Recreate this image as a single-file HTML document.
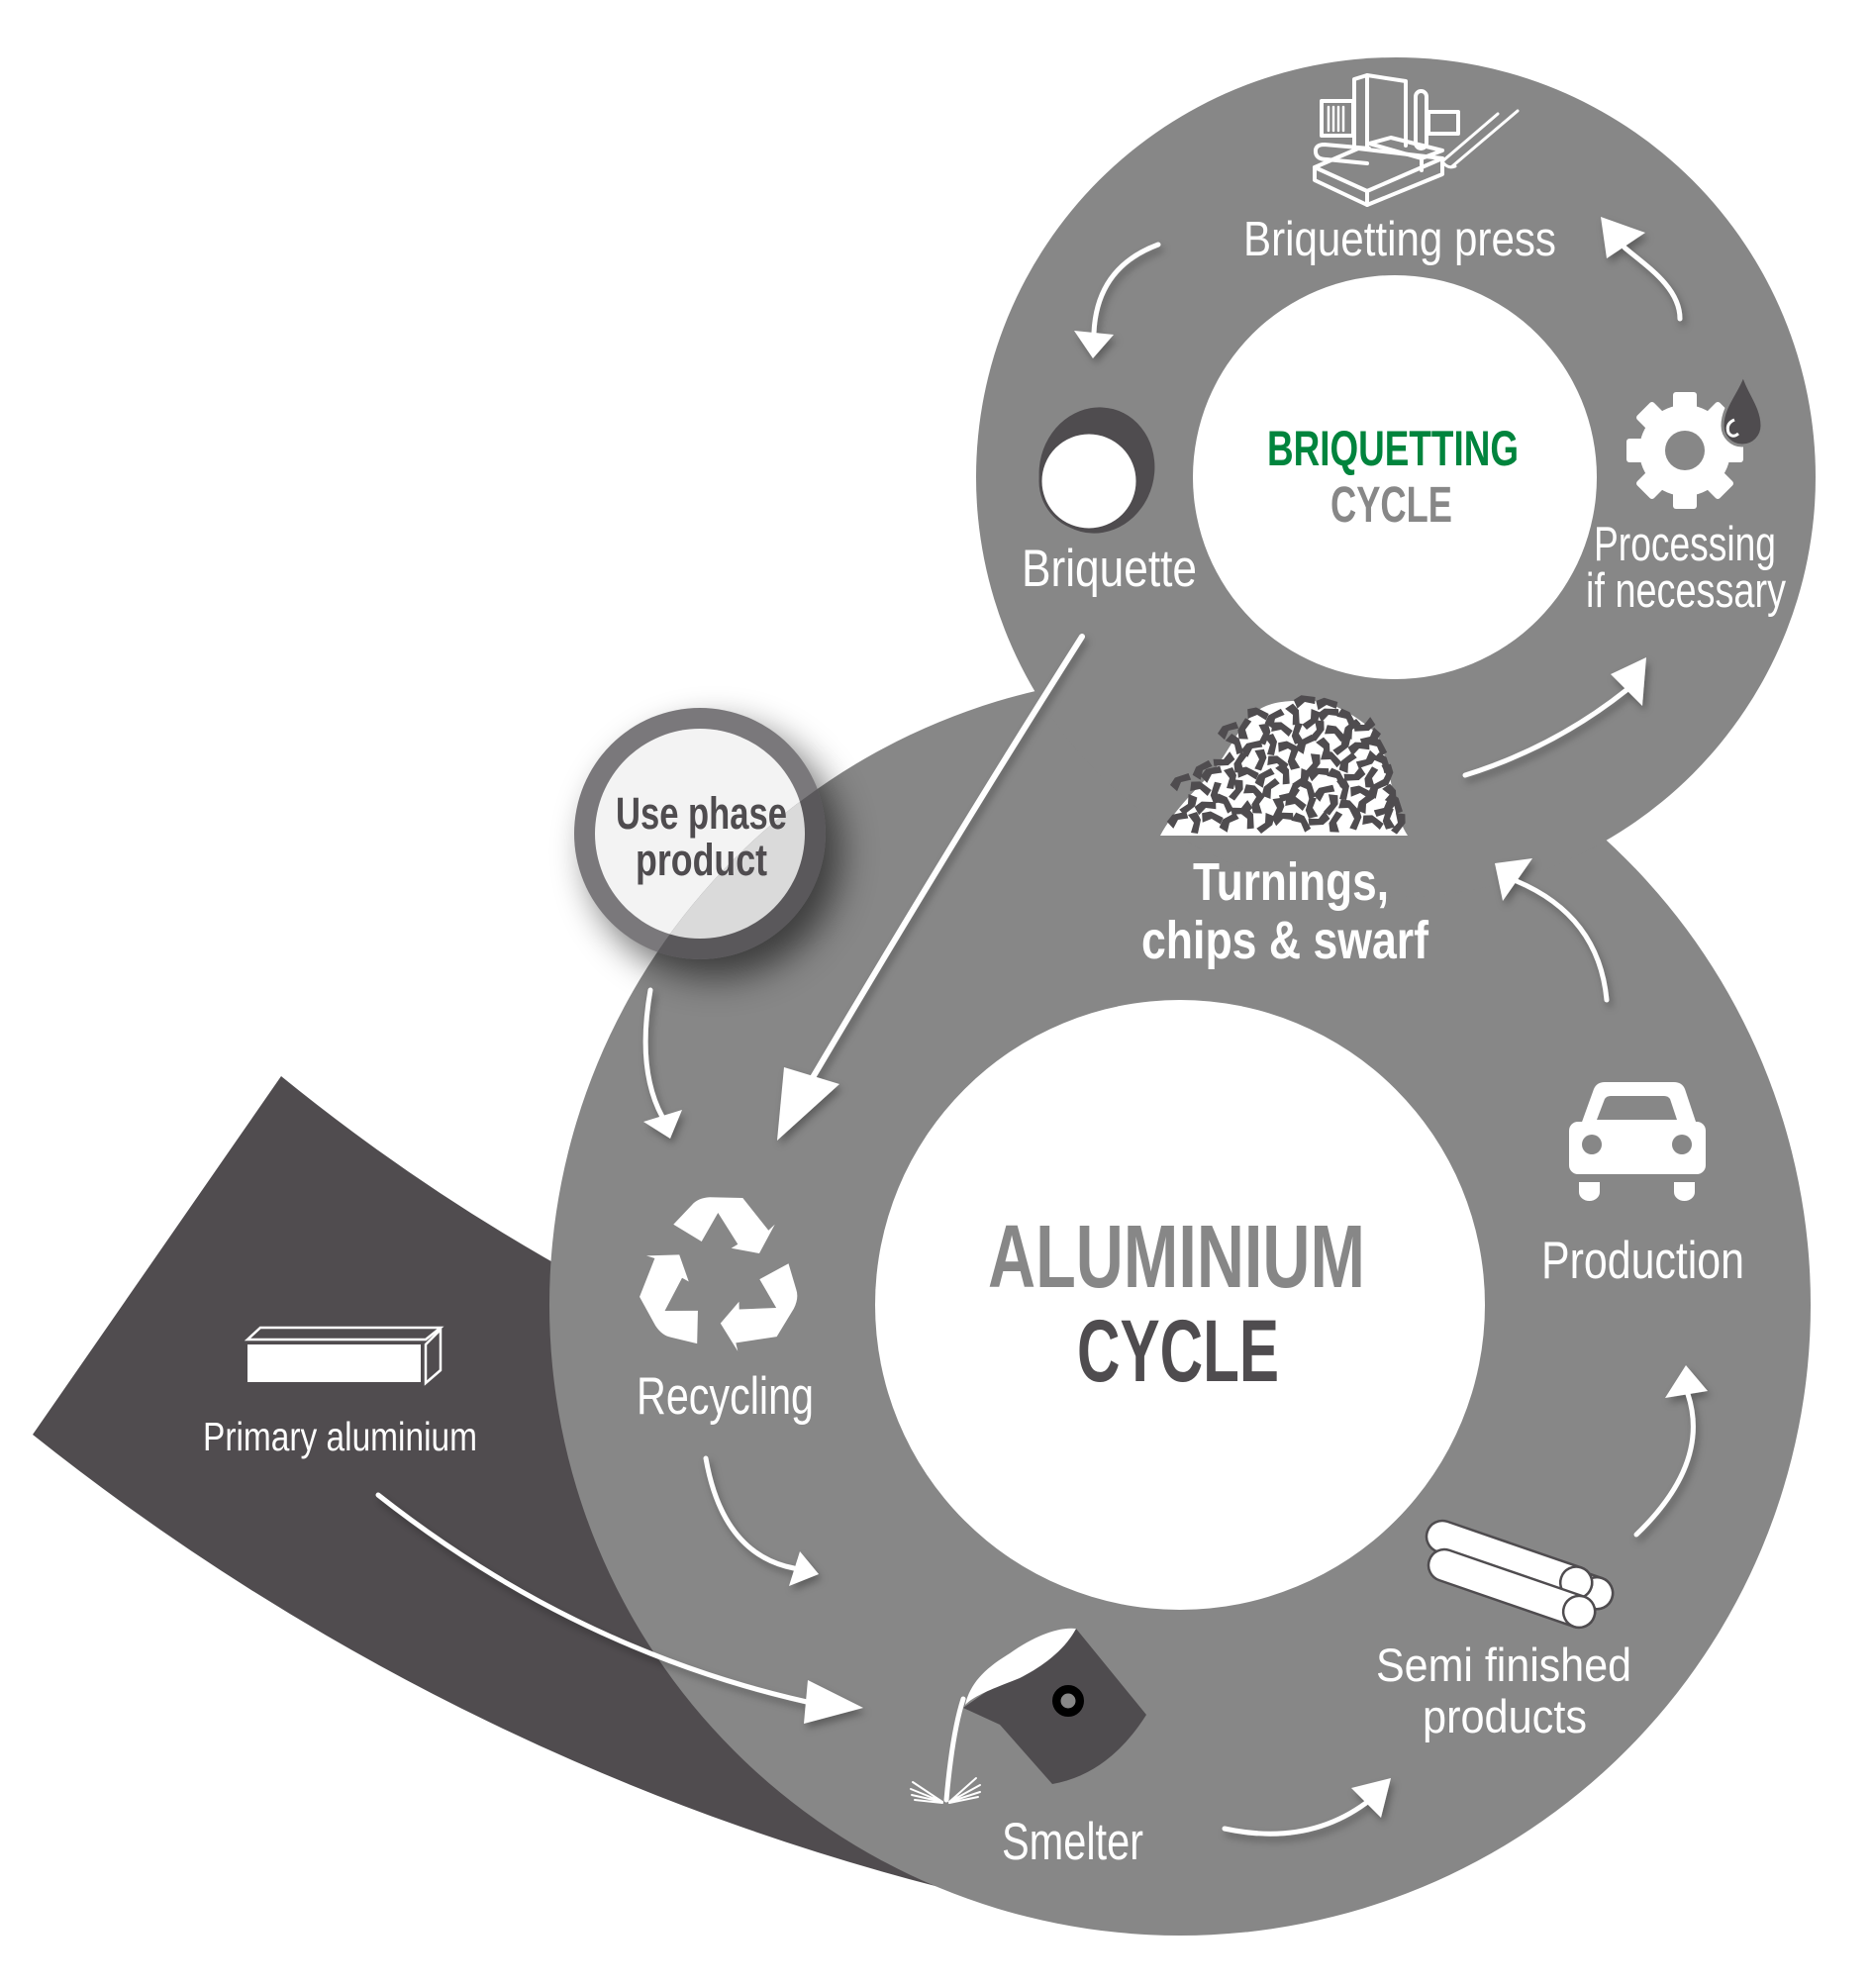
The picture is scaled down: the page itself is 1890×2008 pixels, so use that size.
<!DOCTYPE html>
<html>
<head>
<meta charset="utf-8">
<style>
html,body{margin:0;padding:0;background:#fff;}
svg{display:block;}
.t{font-family:"Liberation Sans Narrow","Liberation Sans",sans-serif;}
.b{font-weight:bold;}
.sh{fill:none;stroke:#fff;stroke-width:5;stroke-linecap:round;}
.hd{fill:#fff;}
</style>
</head>
<body>
<svg width="1890" height="2008" viewBox="0 0 1890 2008" xmlns="http://www.w3.org/2000/svg">
<defs>
  <filter id="ds" x="-50%" y="-50%" width="200%" height="200%">
    <feDropShadow dx="3" dy="5" stdDeviation="4" flood-color="#000" flood-opacity="0.3"/>
  </filter>
  <filter id="bl" x="-50%" y="-50%" width="200%" height="200%">
    <feGaussianBlur stdDeviation="18"/>
  </filter>
  <clipPath id="bigc"><circle cx="1192" cy="1318" r="637"/></clipPath>
  <path id="fl" d="M-11,-3 L-3,-7 L11,-4 L10,3 L0,0 L-8,6 Z"/>
  <path id="rp" d="M-46.7,-53.3 L-28,-73 Q-22,-80 -10,-80.7 L23.3,-80 L49.3,-47.3 L55.7,-53.3 L40,-24 L11.7,-29.3 L18.3,-33.3 L-1.7,-65 L-18.3,-36 Z"/>
</defs>

<rect width="1890" height="2008" fill="#fff"/>

<path d="M284,1087 A2008,2008 0 0 0 658,1328 L1000,1700 L1010,1921 A2450,2450 0 0 1 33,1449 Z" fill="#504c4f"/>

<circle cx="1192" cy="1318" r="637" fill="#878787"/>
<circle cx="1410" cy="482" r="424" fill="#878787"/>
<circle cx="1192" cy="1318" r="308" fill="#fff"/>
<circle cx="1409" cy="482" r="204" fill="#fff"/>

<circle cx="722" cy="860" r="128" fill="#000" opacity="0.55" filter="url(#bl)"/>
<circle cx="707" cy="842" r="127" fill="#7a787b"/>
<circle cx="707" cy="842" r="106" fill="#f3f3f3"/>
<g clip-path="url(#bigc)">
  <circle cx="707" cy="842" r="127" fill="#5a585b"/>
  <circle cx="707" cy="842" r="106" fill="#dadada"/>
</g>
<text class="t b" x="622" y="837" font-size="45" fill="#4f4c4f" textLength="173" lengthAdjust="spacingAndGlyphs">Use phase</text>
<text class="t b" x="642" y="884" font-size="45" fill="#4f4c4f" textLength="133" lengthAdjust="spacingAndGlyphs">product</text>

<g filter="url(#ds)">
  <path class="sh" d="M1170,247 Q1108,270 1105,336"/>
  <polygon class="hd" points="1104,362 1085,334 1125,338"/>
  <path class="sh" d="M1697,322 C1697,290 1662,268 1641,250"/>
  <polygon class="hd" points="1617,219 1623,261 1662,235"/>
  <path class="sh" d="M1093,643 Q966,843 820,1090" style="stroke-width:6"/>
  <polygon class="hd" points="785,1152 792,1078 848,1095"/>
  <path class="sh" d="M657,1000 Q643,1080 669,1128"/>
  <polygon class="hd" points="677,1150 650,1133 689,1121"/>
  <path class="sh" d="M713,1473 Q730,1570 802,1584"/>
  <polygon class="hd" points="827,1590 797,1602 808,1567"/>
  <path class="sh" d="M382,1510 Q580,1666 815,1719"/>
  <polygon class="hd" points="872,1725 816,1697 812,1741"/>
  <path class="sh" d="M1237,1847 Q1320,1865 1380,1821"/>
  <polygon class="hd" points="1405,1796 1365,1806 1395,1836"/>
  <path class="sh" d="M1653,1550 Q1728,1478 1705,1408"/>
  <polygon class="hd" points="1703,1379 1682,1412 1725,1405"/>
  <path class="sh" d="M1623,1010 Q1615,925 1532,890"/>
  <polygon class="hd" points="1510,872 1518,910 1548,867"/>
  <path class="sh" d="M1480,783 Q1570,755 1643,697"/>
  <polygon class="hd" points="1663,664 1627,681 1659,713"/>
</g>

<g fill="none" stroke="#fff" stroke-width="4" stroke-linejoin="round" stroke-linecap="round">
  <path d="M1368,150 L1368,80 L1381,76 L1420,82 L1420,147"/>
  <path d="M1381,76 L1381,150"/>
  <rect x="1335" y="102" width="32" height="35"/>
  <path d="M1342,108v24 M1347,108v24 M1352,108v24 M1357,108v24" stroke-width="2.5"/>
  <rect x="1430" y="92" width="11" height="58" rx="5.5"/>
  <rect x="1443" y="113" width="30" height="22"/>
  <path d="M1328,169 L1372,150 L1457,160 L1381,193 Z"/>
  <path d="M1328,169 L1328,182 L1381,207 L1457,176 L1457,160"/>
  <path d="M1381,193 L1381,207"/>
  <path d="M1383,145 L1405,139 L1457,152 L1436,160 Z M1436,160 L1436,172"/>
  <path d="M1383,150 L1338,146 Q1328,146 1329,154 Q1330,161 1340,161 L1381,165"/>
  <path d="M1457,163 L1513,115 M1467,168 L1533,112 M1457,163 Q1462,171 1470,168" stroke-width="3"/>
</g>

<ellipse cx="1108" cy="475" rx="58" ry="64" transform="rotate(15 1108 475)" fill="#4f4c4f"/>
<circle cx="1100" cy="486" r="49" fill="#fff" stroke="#4f4c4f" stroke-width="3"/>

<g fill="#fff" transform="translate(1702 455)">
  <circle r="46"/>
  <rect x="-12" y="-59" width="24" height="22" rx="3"/>
  <rect x="-12" y="-59" width="24" height="22" rx="3" transform="rotate(45)"/>
  <rect x="-12" y="-59" width="24" height="22" rx="3" transform="rotate(90)"/>
  <rect x="-12" y="-59" width="24" height="22" rx="3" transform="rotate(135)"/>
  <rect x="-12" y="-59" width="24" height="22" rx="3" transform="rotate(180)"/>
  <rect x="-12" y="-59" width="24" height="22" rx="3" transform="rotate(225)"/>
  <rect x="-12" y="-59" width="24" height="22" rx="3" transform="rotate(270)"/>
  <rect x="-12" y="-59" width="24" height="22" rx="3" transform="rotate(315)"/>
  <circle r="20" fill="#878787"/>
</g>
<path d="M1761,378 C1765,395 1780,410 1780,430 A20,20 0 0 1 1740,430 C1740,410 1756,395 1761,378 Z" fill="#4f4c4f" stroke="#878787" stroke-width="3"/>
<path d="M1752,424 Q1743,428 1746,437 Q1750,443 1756,438" fill="none" stroke="#fff" stroke-width="3"/>

<path d="M1172,844 C1185,820 1205,800 1225,780 C1240,760 1250,738 1265,722 C1280,708 1300,707 1330,708 C1355,712 1375,728 1390,740 C1400,760 1405,790 1410,815 C1414,830 1418,838 1422,844 Z" fill="#fff"/>
<g fill="#4f4c4f">
<use href="#fl" transform="translate(1270 722) rotate(15)"/>
<use href="#fl" transform="translate(1288 726) rotate(-40)"/>
<use href="#fl" transform="translate(1306 722) rotate(75)"/>
<use href="#fl" transform="translate(1324 726) rotate(130)"/>
<use href="#fl" transform="translate(1342 722) rotate(-10)"/>
<use href="#fl" transform="translate(1360 726) rotate(50)"/>
<use href="#fl" transform="translate(1378 732) rotate(165)"/>
<use href="#fl" transform="translate(1258 737) rotate(-70)"/>
<use href="#fl" transform="translate(1276 741) rotate(100)"/>
<use href="#fl" transform="translate(1294 737) rotate(25)"/>
<use href="#fl" transform="translate(1312 741) rotate(-85)"/>
<use href="#fl" transform="translate(1330 737) rotate(115)"/>
<use href="#fl" transform="translate(1348 741) rotate(35)"/>
<use href="#fl" transform="translate(1366 737) rotate(-50)"/>
<use href="#fl" transform="translate(1384 744) rotate(150)"/>
<use href="#fl" transform="translate(1247 752) rotate(60)"/>
<use href="#fl" transform="translate(1265 756) rotate(-25)"/>
<use href="#fl" transform="translate(1283 752) rotate(90)"/>
<use href="#fl" transform="translate(1301 756) rotate(15)"/>
<use href="#fl" transform="translate(1319 752) rotate(-40)"/>
<use href="#fl" transform="translate(1337 756) rotate(75)"/>
<use href="#fl" transform="translate(1355 752) rotate(130)"/>
<use href="#fl" transform="translate(1373 756) rotate(-10)"/>
<use href="#fl" transform="translate(1391 754) rotate(50)"/>
<use href="#fl" transform="translate(1236 767) rotate(165)"/>
<use href="#fl" transform="translate(1254 771) rotate(-70)"/>
<use href="#fl" transform="translate(1272 767) rotate(100)"/>
<use href="#fl" transform="translate(1290 771) rotate(25)"/>
<use href="#fl" transform="translate(1308 767) rotate(-85)"/>
<use href="#fl" transform="translate(1326 771) rotate(115)"/>
<use href="#fl" transform="translate(1344 767) rotate(35)"/>
<use href="#fl" transform="translate(1362 771) rotate(-50)"/>
<use href="#fl" transform="translate(1380 767) rotate(150)"/>
<use href="#fl" transform="translate(1396 771) rotate(60)"/>
<use href="#fl" transform="translate(1224 782) rotate(-25)"/>
<use href="#fl" transform="translate(1242 786) rotate(90)"/>
<use href="#fl" transform="translate(1260 782) rotate(15)"/>
<use href="#fl" transform="translate(1278 786) rotate(-40)"/>
<use href="#fl" transform="translate(1296 782) rotate(75)"/>
<use href="#fl" transform="translate(1314 786) rotate(130)"/>
<use href="#fl" transform="translate(1332 782) rotate(-10)"/>
<use href="#fl" transform="translate(1350 786) rotate(50)"/>
<use href="#fl" transform="translate(1368 782) rotate(165)"/>
<use href="#fl" transform="translate(1386 786) rotate(-70)"/>
<use href="#fl" transform="translate(1400 782) rotate(100)"/>
<use href="#fl" transform="translate(1212 797) rotate(25)"/>
<use href="#fl" transform="translate(1230 801) rotate(-85)"/>
<use href="#fl" transform="translate(1248 797) rotate(115)"/>
<use href="#fl" transform="translate(1266 801) rotate(35)"/>
<use href="#fl" transform="translate(1284 797) rotate(-50)"/>
<use href="#fl" transform="translate(1302 801) rotate(150)"/>
<use href="#fl" transform="translate(1320 797) rotate(60)"/>
<use href="#fl" transform="translate(1338 801) rotate(-25)"/>
<use href="#fl" transform="translate(1356 797) rotate(90)"/>
<use href="#fl" transform="translate(1374 801) rotate(15)"/>
<use href="#fl" transform="translate(1392 797) rotate(-40)"/>
<use href="#fl" transform="translate(1404 803) rotate(75)"/>
<use href="#fl" transform="translate(1200 812) rotate(130)"/>
<use href="#fl" transform="translate(1218 816) rotate(-10)"/>
<use href="#fl" transform="translate(1236 812) rotate(50)"/>
<use href="#fl" transform="translate(1254 816) rotate(165)"/>
<use href="#fl" transform="translate(1272 812) rotate(-70)"/>
<use href="#fl" transform="translate(1290 816) rotate(100)"/>
<use href="#fl" transform="translate(1308 812) rotate(25)"/>
<use href="#fl" transform="translate(1326 816) rotate(-85)"/>
<use href="#fl" transform="translate(1344 812) rotate(115)"/>
<use href="#fl" transform="translate(1362 816) rotate(35)"/>
<use href="#fl" transform="translate(1380 812) rotate(-50)"/>
<use href="#fl" transform="translate(1398 816) rotate(150)"/>
<use href="#fl" transform="translate(1408 812) rotate(60)"/>
<use href="#fl" transform="translate(1190 828) rotate(-25)"/>
<use href="#fl" transform="translate(1206 831) rotate(90)"/>
<use href="#fl" transform="translate(1224 827) rotate(15)"/>
<use href="#fl" transform="translate(1242 831) rotate(-40)"/>
<use href="#fl" transform="translate(1260 827) rotate(75)"/>
<use href="#fl" transform="translate(1278 831) rotate(130)"/>
<use href="#fl" transform="translate(1296 827) rotate(-10)"/>
<use href="#fl" transform="translate(1314 831) rotate(50)"/>
<use href="#fl" transform="translate(1332 827) rotate(165)"/>
<use href="#fl" transform="translate(1350 831) rotate(-70)"/>
<use href="#fl" transform="translate(1368 827) rotate(100)"/>
<use href="#fl" transform="translate(1386 831) rotate(25)"/>
<use href="#fl" transform="translate(1404 827) rotate(-85)"/>
<use href="#fl" transform="translate(1412 831) rotate(115)"/>
<use href="#fl" transform="translate(1340 712) rotate(5)"/>
<use href="#fl" transform="translate(1318 709) rotate(-5)"/>
<use href="#fl" transform="translate(1241 738) rotate(-30)"/>
<use href="#fl" transform="translate(1215 778) rotate(-40)"/>
<use href="#fl" transform="translate(1193 790) rotate(-30)"/>
</g>

<g fill="#fff" transform="translate(727 1290)">
  <use href="#rp"/>
  <use href="#rp" transform="rotate(120)"/>
  <use href="#rp" transform="rotate(240)"/>
</g>

<g fill="#fff">
  <path d="M1597,1136 L1610,1100 Q1613,1093 1621,1093 L1691,1093 Q1699,1093 1702,1100 L1714,1136 Z"/>
  <rect x="1585" y="1133" width="138" height="53" rx="9"/>
  <path d="M1595,1194 h21 v10 a10.5,9 0 0 1 -21,0 Z"/>
  <path d="M1691,1194 h21 v10 a10.5,9 0 0 1 -21,0 Z"/>
</g>
<path fill="#878787" d="M1613,1131 L1621,1110 Q1623,1107 1627,1107 L1681,1107 Q1685,1107 1687,1110 L1694,1131 Z"/>
<circle cx="1608" cy="1156" r="10" fill="#878787"/>
<circle cx="1699" cy="1156" r="10" fill="#878787"/>

<g fill="#fff" stroke="#4f4c4f" stroke-width="2.5">
  <g transform="translate(1476 1562) rotate(19)">
    <path d="M0,-16 H145 A16,16 0 0 1 145,16 H0 A16,16 0 0 1 0,-16 Z"/>
    <circle cx="145" cy="0" r="16"/>
  </g>
  <g transform="translate(1457 1552) rotate(19)">
    <path d="M0,-16 H143 A16,16 0 0 1 143,16 H0 A16,16 0 0 1 0,-16 Z"/>
    <circle cx="143" cy="0" r="16"/>
  </g>
  <g transform="translate(1459 1581) rotate(19)">
    <path d="M0,-16 H144 A16,16 0 0 1 144,16 H0 A16,16 0 0 1 0,-16 Z"/>
    <circle cx="144" cy="0" r="16"/>
  </g>
</g>

<path d="M973,1725 L1087,1645 L1158,1732 Q1120,1792 1063,1802 L1010,1742 Z" fill="#4f4c4f"/>
<path d="M975,1722 C980,1700 995,1685 1020,1670 C1045,1652 1070,1643 1087,1645 C1075,1668 1050,1685 1030,1695 C1005,1705 985,1712 975,1722 Z" fill="#fff"/>
<path d="M973,1716 Q962,1750 956,1818" fill="none" stroke="#fff" stroke-width="5" stroke-linecap="round"/>
<g stroke="#fff" stroke-width="2" fill="none" stroke-linecap="round">
  <path d="M952,1820 L922,1800 M952,1820 L920,1807 M952,1820 L921,1813 M952,1821 L924,1818"/>
  <path d="M959,1820 L986,1796 M959,1820 L990,1803 M959,1820 L990,1810 M959,1821 L988,1815"/>
</g>
<circle cx="1079" cy="1718" r="11.75" fill="#878787" stroke="#000" stroke-width="8.5"/>

<rect x="250" y="1358" width="175" height="38" fill="#fff"/>
<path d="M250,1353 L263,1341 L445,1341 L430,1353 Z" fill="none" stroke="#fff" stroke-width="2.5"/>
<path d="M430,1358 L445,1343 L445,1384 L430,1397 Z" fill="none" stroke="#fff" stroke-width="2.5"/>

<g class="t">
  <text x="1256" y="258" font-size="49" fill="#fff" textLength="316" lengthAdjust="spacingAndGlyphs">Briquetting press</text>
  <text class="b" x="1280" y="470" font-size="50" fill="#00843d" textLength="254" lengthAdjust="spacingAndGlyphs">BRIQUETTING</text>
  <text class="b" x="1344" y="527" font-size="51" fill="#878787" textLength="123" lengthAdjust="spacingAndGlyphs">CYCLE</text>
  <text x="1032" y="592" font-size="53" fill="#fff" textLength="177" lengthAdjust="spacingAndGlyphs">Briquette</text>
  <text x="1610" y="566" font-size="49" fill="#fff" textLength="184" lengthAdjust="spacingAndGlyphs">Processing</text>
  <text x="1602" y="613" font-size="49" fill="#fff" textLength="202" lengthAdjust="spacingAndGlyphs">if necessary</text>
  <text class="b" x="1205" y="909" font-size="54" fill="#fff" textLength="198" lengthAdjust="spacingAndGlyphs">Turnings,</text>
  <text class="b" x="1153" y="968" font-size="54" fill="#fff" textLength="290" lengthAdjust="spacingAndGlyphs">chips &amp; swarf</text>
  <text class="b" x="998" y="1300" font-size="90" fill="#878787" textLength="381" lengthAdjust="spacingAndGlyphs">ALUMINIUM</text>
  <text class="b" x="1088" y="1395" font-size="89" fill="#4f4c4f" textLength="204" lengthAdjust="spacingAndGlyphs">CYCLE</text>
  <text x="643" y="1428" font-size="53" fill="#fff" textLength="179" lengthAdjust="spacingAndGlyphs">Recycling</text>
  <text x="1557" y="1291" font-size="53" fill="#fff" textLength="205" lengthAdjust="spacingAndGlyphs">Production</text>
  <text x="1390" y="1698" font-size="47" fill="#fff" textLength="258" lengthAdjust="spacingAndGlyphs">Semi finished</text>
  <text x="1437" y="1750" font-size="47" fill="#fff" textLength="166" lengthAdjust="spacingAndGlyphs">products</text>
  <text x="1012" y="1878" font-size="53" fill="#fff" textLength="143" lengthAdjust="spacingAndGlyphs">Smelter</text>
  <text x="205" y="1465" font-size="41" fill="#fff" textLength="277" lengthAdjust="spacingAndGlyphs">Primary aluminium</text>
</g>
</svg>
</body>
</html>
